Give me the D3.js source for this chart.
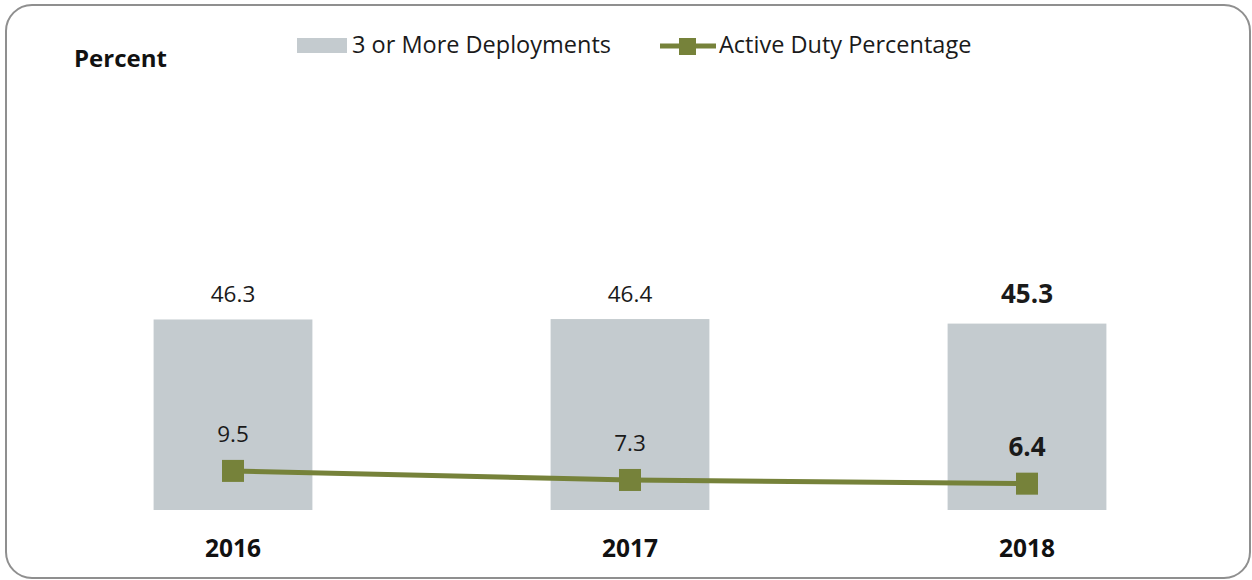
<!DOCTYPE html>
<html>
<head>
<meta charset="utf-8">
<script src="https://cdn.jsdelivr.net/npm/d3@7"></script>
<style>
  html, body { margin: 0; padding: 0; background: #fff; }
  svg { display: block; font-family: "Open Sans", Lato, sans-serif; }
</style>
</head>
<body>
<svg id="chart" width="1252" height="580"></svg>
<script>
// Survey years and the two measures plotted against them
const years = ["2016", "2017", "2018"];
const deployments = [46.3, 46.4, 45.3];       // 3 or More Deployments (bars)
const activeDuty = [9.5, 7.3, 6.4];           // Active Duty Percentage (line)
const boldYears = ["2018"];                   // latest year is emphasised
const seriesNames = ["3 or More Deployments", "Active Duty Percentage"];

const W = 1252, H = 580;
const barColor = "#c4cbcf";
const lineColor = "#76823a";
const textColor = "#1a1a1a";

const svg = d3.select("#chart");

// rounded frame around the whole chart
svg.append("rect")
  .attr("x", 6).attr("y", 5)
  .attr("width", W - 8).attr("height", H - 7)
  .attr("rx", 26).attr("ry", 26)
  .attr("fill", "#fff")
  .attr("stroke", "#8f8f8f")
  .attr("stroke-width", 2);

const x = d3.scaleBand()
  .domain(years)
  .range([34.5, 1225.5])
  .paddingInner(0.6)
  .paddingOuter(0.3);

const y = d3.scaleLinear()
  .domain([0, 50])
  .range([510, 510 - 50 * 4.115]);

const cx = d => x(d) + x.bandwidth() / 2;
const isBold = d => boldYears.includes(d);

// bars
svg.selectAll("rect.bar")
  .data(years)
  .join("rect")
  .attr("class", "bar")
  .attr("x", d => x(d))
  .attr("width", x.bandwidth())
  .attr("y", (d, i) => y(deployments[i]))
  .attr("height", (d, i) => y(0) - y(deployments[i]))
  .attr("fill", barColor);

// bar value labels
svg.selectAll("text.barlabel")
  .data(years)
  .join("text")
  .attr("class", "barlabel")
  .attr("x", d => cx(d))
  .attr("y", (d, i) => y(deployments[i]) - (isBold(d) ? 20.5 : 17.5))
  .attr("text-anchor", "middle")
  .attr("font-size", d => isBold(d) ? 26 : 22.5)
  .attr("font-weight", d => isBold(d) ? "bold" : "normal")
  .attr("fill", textColor)
  .text((d, i) => deployments[i].toFixed(1));

// line
const line = d3.line()
  .x(d => cx(d))
  .y((d, i) => y(activeDuty[i]));

svg.append("path")
  .datum(years)
  .attr("d", line)
  .attr("fill", "none")
  .attr("stroke", lineColor)
  .attr("stroke-width", 5);

svg.selectAll("rect.marker")
  .data(years)
  .join("rect")
  .attr("class", "marker")
  .attr("x", d => cx(d) - 11)
  .attr("y", (d, i) => y(activeDuty[i]) - 11)
  .attr("width", 22)
  .attr("height", 22)
  .attr("fill", lineColor);

// line value labels
svg.selectAll("text.linelabel")
  .data(years)
  .join("text")
  .attr("class", "linelabel")
  .attr("x", d => cx(d))
  .attr("y", (d, i) => y(activeDuty[i]) - (isBold(d) ? 27.5 : 29))
  .attr("text-anchor", "middle")
  .attr("font-size", d => isBold(d) ? 26 : 22.5)
  .attr("font-weight", d => isBold(d) ? "bold" : "normal")
  .attr("fill", textColor)
  .text((d, i) => activeDuty[i].toFixed(1));

// category axis labels
svg.selectAll("text.year")
  .data(years)
  .join("text")
  .attr("class", "year")
  .attr("x", d => cx(d))
  .attr("y", 557)
  .attr("text-anchor", "middle")
  .attr("font-size", 24.5)
  .attr("font-weight", "bold")
  .attr("fill", "#111")
  .text(d => d);

// axis title
svg.append("text")
  .attr("x", 74).attr("y", 67)
  .attr("font-size", 24)
  .attr("font-weight", "bold")
  .attr("fill", "#111")
  .text("Percent");

// legend
const leg = svg.append("g");
leg.append("rect")
  .attr("x", 297).attr("y", 38)
  .attr("width", 50).attr("height", 15)
  .attr("fill", barColor);
leg.append("text")
  .attr("x", 352).attr("y", 53)
  .attr("font-size", 23.5)
  .attr("fill", textColor)
  .text(seriesNames[0]);
leg.append("line")
  .attr("x1", 660).attr("x2", 716)
  .attr("y1", 46).attr("y2", 46)
  .attr("stroke", lineColor)
  .attr("stroke-width", 5);
leg.append("rect")
  .attr("x", 679).attr("y", 38)
  .attr("width", 17).attr("height", 17)
  .attr("fill", lineColor);
leg.append("text")
  .attr("x", 719).attr("y", 53)
  .attr("font-size", 23.5)
  .attr("fill", textColor)
  .text(seriesNames[1]);
</script>
</body>
</html>
